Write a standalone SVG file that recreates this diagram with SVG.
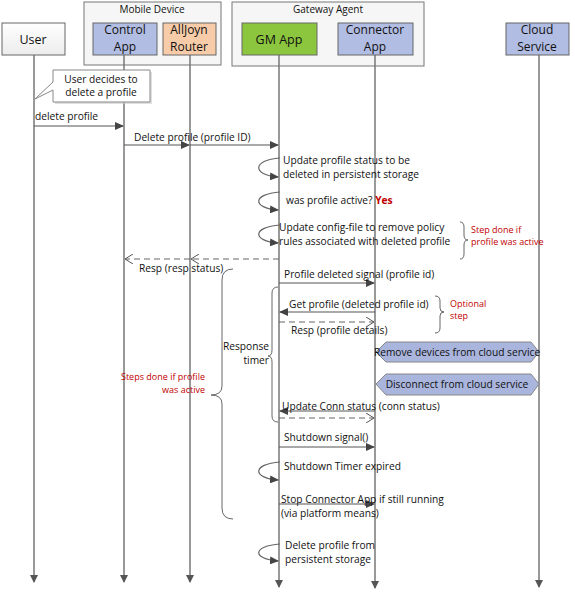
<svg xmlns="http://www.w3.org/2000/svg" width="575" height="602" viewBox="0 0 575 602">
<defs>
<marker id="fa" markerWidth="9" markerHeight="8" refX="8" refY="4" orient="auto" markerUnits="userSpaceOnUse"><path d="M0,0 L9,4 L0,8 Z" fill="#444"/></marker>
<marker id="oa" markerWidth="9" markerHeight="10" refX="8" refY="5" orient="auto" markerUnits="userSpaceOnUse"><path d="M0,0 L8,5 L0,10" fill="none" stroke="#555" stroke-width="1"/></marker>
<marker id="la" markerWidth="8" markerHeight="8" refX="4" refY="7" orient="0" markerUnits="userSpaceOnUse"><path d="M0,0 L4,8 L8,0 Z" fill="#555"/></marker>
<linearGradient id="gu" x1="0" y1="0" x2="0" y2="1"><stop offset="0" stop-color="#ffffff"/><stop offset="1" stop-color="#ececec"/></linearGradient>
</defs>
<style>
text{font-family:"Open Sans","Noto Sans","DejaVu Sans",sans-serif;fill:#111}
.hd{font-size:12.5px;text-anchor:middle}
.hd2{font-size:12px;text-anchor:middle}
.gp{font-size:10px;text-anchor:middle}
.t{font-size:10.2px}
.r{font-size:9px;fill:#c00000}
.box{stroke:#666;stroke-width:1}
.grp{fill:#f6f6f6;stroke:#777;stroke-width:1}
.life{stroke:#777;stroke-width:1.5;fill:none}
.msg{stroke:#555;stroke-width:1.2;fill:none}
.ret{stroke:#666;stroke-width:1.2;fill:none;stroke-dasharray:6,4}
.loop{stroke:#666;stroke-width:1.2;fill:none}
.br{stroke:#666;stroke-width:1;fill:none}
.hex{fill:#a9b5dc;stroke:#888;stroke-width:1}
</style>

<g id="group-mobile"><rect class="grp" x="84" y="2" width="137" height="63"/><text class="gp" x="152" y="13">Mobile Device</text></g>
<g id="group-gateway"><rect class="grp" x="232" y="2" width="192" height="64"/><text class="gp" x="328" y="13">Gateway Agent</text></g>

<g id="lifelines">
<line class="life" x1="34" y1="55" x2="34" y2="582" marker-end="url(#la)"/>
<line class="life" x1="124" y1="55" x2="124" y2="582" marker-end="url(#la)"/>
<line class="life" x1="190" y1="55" x2="190" y2="582" marker-end="url(#la)"/>
<line class="life" x1="279" y1="55" x2="279" y2="587" marker-end="url(#la)"/>
<line class="life" x1="375" y1="55" x2="375" y2="588" marker-end="url(#la)"/>
<line class="life" x1="539" y1="55" x2="539" y2="587" marker-end="url(#la)"/>
</g>

<g id="user"><rect class="box" x="2" y="23" width="63" height="32" fill="url(#gu)"/><text class="hd" x="33" y="44">User</text></g>
<g id="control-app"><rect class="box" x="93" y="23" width="64" height="32" fill="#b1bde3"/><text class="hd2" x="125" y="34">Control</text><text class="hd2" x="125" y="51">App</text></g>
<g id="alljoyn-router"><rect class="box" x="163" y="23" width="53" height="32" fill="#f8cca8"/><text class="hd2" x="189" y="34">AllJoyn</text><text class="hd2" x="189" y="51">Router</text></g>
<g id="gm-app"><rect class="box" x="242" y="23" width="75" height="32" fill="#8cc63e"/><text class="hd" x="279" y="44">GM App</text></g>
<g id="connector-app"><rect class="box" x="338" y="23" width="75" height="32" fill="#b1bde3"/><text class="hd2" x="375" y="34">Connector</text><text class="hd2" x="375" y="51">App</text></g>
<g id="cloud-service"><rect class="box" x="506" y="23" width="63" height="32" fill="#b1bde3"/><text class="hd2" x="537" y="34">Cloud</text><text class="hd2" x="537" y="51">Service</text></g>

<g id="note-user">
<path d="M55,72 H152 V104 H55 Z" fill="#ccc" opacity="0.6"/>
<path d="M53,70 H150 V102 H53 V90 L35,99 L53,82 Z" fill="#fff" stroke="#888" stroke-width="1"/>
<text class="t" x="101" y="83" text-anchor="middle" font-size="9.5">User decides to</text>
<text class="t" x="101" y="96" text-anchor="middle" font-size="9.5">delete a profile</text>
</g>

<g id="connectors">
<line class="msg" x1="34" y1="126" x2="123" y2="126" marker-end="url(#fa)"/>
<line class="msg" x1="124" y1="145" x2="189" y2="145" marker-end="url(#fa)"/>
<line class="msg" x1="190" y1="145" x2="278" y2="145" marker-end="url(#fa)"/>
<path class="loop" d="M280,158 C252,160 252,175 278,177" marker-end="url(#fa)"/>
<path class="loop" d="M280,192 C252,194 252,208 278,210" marker-end="url(#fa)"/>
<path class="loop" d="M280,225 C252,227 252,241 278,243" marker-end="url(#fa)"/>
<line class="ret" x1="279" y1="259" x2="191" y2="259" marker-end="url(#oa)"/>
<line class="ret" x1="190" y1="259" x2="125" y2="259" marker-end="url(#oa)"/>
<line class="msg" x1="279" y1="283" x2="374" y2="283" marker-end="url(#fa)"/>
<line class="msg" x1="375" y1="312" x2="280" y2="312" marker-end="url(#fa)"/>
<line class="ret" x1="279" y1="322" x2="374" y2="322" marker-end="url(#oa)"/>
<line class="msg" x1="375" y1="411" x2="280" y2="411" marker-end="url(#fa)"/>
<line class="ret" x1="279" y1="418" x2="374" y2="418" marker-end="url(#oa)"/>
<line class="msg" x1="279" y1="447" x2="374" y2="447" marker-end="url(#fa)"/>
<path class="loop" d="M280,462 C252,464 252,478 278,480" marker-end="url(#fa)"/>
<line class="msg" x1="279" y1="504" x2="374" y2="504" marker-end="url(#fa)"/>
<path class="loop" d="M280,544 C252,546 252,559 278,561" marker-end="url(#fa)"/>
</g>

<g id="labels">
<text class="t" x="35" y="120">delete profile</text>
<text class="t" x="134" y="141">Delete profile (profile ID)</text>
<text class="t" x="283" y="164">Update profile status to be</text>
<text class="t" x="283" y="178">deleted in persistent storage</text>
<text class="t" x="286" y="204">was profile active? <tspan fill="#c00000" font-weight="bold">Yes</tspan></text>
<text class="t" x="279" y="231">Update config-file to remove policy</text>
<text class="t" x="279" y="245">rules associated with deleted profile</text>
<text class="t" x="139" y="272">Resp (resp status)</text>
<text class="t" x="284" y="278">Profile deleted signal (profile id)</text>
<text class="t" x="289" y="308">Get profile (deleted profile id)</text>
<text class="t" x="291" y="334">Resp  (profile details)</text>
<text class="t" x="282" y="410">Update Conn status (conn status)</text>
<text class="t" x="284" y="441">Shutdown signal()</text>
<text class="t" x="284" y="470">Shutdown Timer expired</text>
<text class="t" x="281" y="503">Stop Connector App if still running</text>
<text class="t" x="281" y="517">(via platform means)</text>
<text class="t" x="285" y="549">Delete profile from</text>
<text class="t" x="285" y="563">persistent storage</text>
<text class="t" x="269" y="350" text-anchor="end">Response</text>
<text class="t" x="269" y="364" text-anchor="end">timer</text>
<text class="r" x="471" y="233">Step done if</text>
<text class="r" x="471" y="245">profile was active</text>
<text class="r" x="450" y="307">Optional</text>
<text class="r" x="450" y="319">step</text>
<text class="r" x="205" y="380" text-anchor="end">Steps done if profile</text>
<text class="r" x="205" y="393" text-anchor="end">was active</text>
</g>

<g id="braces">
<path class="br" d="M233,269 Q222,269 222,280 V386 Q222,395 211,395 Q222,395 222,404 V508 Q222,519 233,519"/>
<path class="br" d="M278,287 Q272,287 272,293 V350 Q272,356 268,356 Q272,356 272,362 V416 Q272,422 278,422"/>
<path class="br" d="M435,296 Q440,296 440,301 V308 Q440,312 444,312 Q440,312 440,316 V328 Q440,333 435,333"/>
<path class="br" d="M460,222 Q464,222 464,227 V235 Q464,240 468,240 Q464,240 464,245 V254 Q464,259 460,259"/>
</g>

<g id="hex-remove"><polygon class="hex" points="376,352 386,342 531,342 539,352 531,362 386,362"/><text class="t" x="457" y="356" text-anchor="middle" font-size="9.5">Remove devices from cloud service</text></g>
<g id="hex-disconnect"><polygon class="hex" points="376,384 386,374 531,374 539,384 531,395 386,395"/><text class="t" x="457" y="388" text-anchor="middle" font-size="9.5">Disconnect from cloud service</text></g>
</svg>
